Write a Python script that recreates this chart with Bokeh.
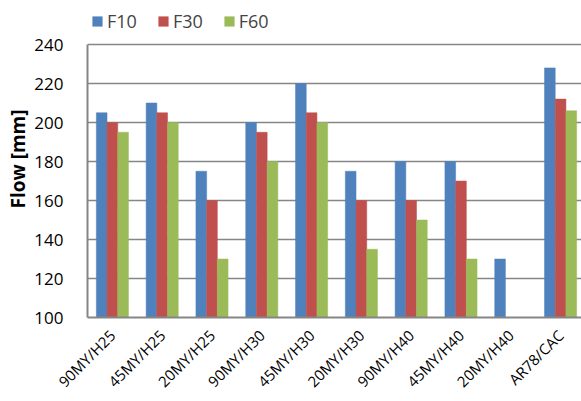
import math
from bokeh.plotting import figure
from bokeh.models import ColumnDataSource, Legend, LegendItem, FixedTicker, Range1d
from bokeh.embed import file_html
from bokeh.resources import INLINE

categories = ["90MY/H25", "45MY/H25", "20MY/H25", "90MY/H30", "45MY/H30",
              "20MY/H30", "90MY/H40", "45MY/H40", "20MY/H40", "AR78/CAC"]
F10 = [205, 210, 175, 200, 220, 175, 180, 180, 130, 228]
F30 = [200, 205, 160, 195, 205, 160, 160, 170, float("nan"), 212]
F60 = [195, 200, 130, 180, 200, 135, 150, 130, float("nan"), 206]
series_names = ["F10", "F30", "F60"]
colors = ["#4F81BD", "#C0504D", "#9BBB59"]
y_ticks = [100, 120, 140, 160, 180, 200, 220, 240]
y_min, y_max = 100, 240

FONT = "Open Sans"
xpos = [i + 0.5 for i in range(len(categories))]
bw = 0.215

# frame spans the full height above the x axis; 240 line sits 44px below the top
frame_h = 401 - 84
y_top = y_min + (y_max - y_min) * frame_h / (frame_h - 44)

p = figure(width=581, height=401, output_backend="svg", toolbar_location=None,
           x_range=Range1d(0, 9.92), y_range=Range1d(y_min, y_top),
           min_border_left=87, min_border_right=0, min_border_top=0, min_border_bottom=84)
p.outline_line_color = None
p.background_fill_color = "white"
p.border_fill_color = "white"

renderers = []
for k, (vals, col) in enumerate(zip([F10, F30, F60], colors)):
    src = ColumnDataSource(dict(x=[x + (k - 1) * bw for x in xpos], top=vals))
    r = p.vbar(x="x", top="top", bottom=y_min, width=bw, source=src,
               fill_color=col, line_color=col, line_width=0.5)
    renderers.append(r)

# axes
p.xaxis.ticker = FixedTicker(ticks=xpos)
p.xaxis.major_label_overrides = {x: c for x, c in zip(xpos, categories)}
p.xaxis.major_label_orientation = math.pi / 4
p.xaxis.major_label_text_font = FONT
p.xaxis.major_label_text_font_size = "15px"
p.xaxis.major_label_text_color = "black"
p.xaxis.major_tick_line_color = None
p.xaxis.minor_tick_line_color = None
p.xaxis.axis_line_color = "#868686"
p.xaxis.axis_line_width = 2
p.xaxis.major_label_standoff = 9

p.yaxis.ticker = FixedTicker(ticks=y_ticks)
p.yaxis.bounds = (y_min, y_max)
p.yaxis.major_label_text_font = FONT
p.yaxis.major_label_text_font_size = "17px"
p.yaxis.major_label_text_color = "black"
p.yaxis.major_tick_line_color = None
p.yaxis.minor_tick_line_color = None
p.yaxis.axis_line_color = "#868686"
p.yaxis.axis_line_width = 2
p.yaxis.major_label_standoff = 18
p.yaxis.axis_label = "Flow [mm]"
p.yaxis.axis_label_text_font = FONT
p.yaxis.axis_label_text_font_size = "19px"
p.yaxis.axis_label_text_font_style = "bold"
p.yaxis.axis_label_text_color = "black"
p.yaxis.axis_label_standoff = 0

p.xgrid.grid_line_color = None
p.ygrid.ticker = FixedTicker(ticks=y_ticks)
p.ygrid.grid_line_color = "#868686"
p.ygrid.grid_line_width = 1.5

legend = Legend(items=[LegendItem(label=n, renderers=[r]) for n, r in zip(series_names, renderers)],
                orientation="horizontal", location=(4, 284),
                glyph_width=12, glyph_height=12, label_standoff=4, spacing=20,
                padding=0, margin=0, border_line_color=None, background_fill_alpha=0,
                label_text_font=FONT, label_text_font_size="18px")
p.add_layout(legend, "center")

open("out.html", "w").write(file_html(p, INLINE))
